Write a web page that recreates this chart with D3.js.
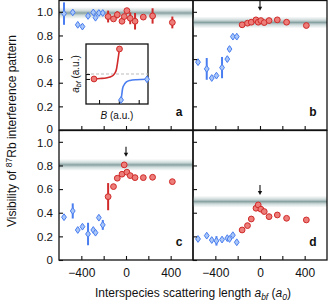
<!DOCTYPE html>
<html>
<head>
<meta charset="utf-8">
<script src="https://cdn.jsdelivr.net/npm/d3@7"></script>
<style>
  body { margin: 0; background: #fff; }
  svg { display: block; font-family: "Liberation Sans", Arial, sans-serif; }
  .tick text { fill: #111; }
</style>
</head>
<body>
<svg id="chart" width="328" height="305"></svg>
<script>
// scattering length of each point (same for all panels)
const blueX = [-555, -477, -432, -390, -340, -293, -273, -243, -208];
const redX = [-160, -112, -78, -36, -16, 8, 38, 81, 155, 238, 415];

// visibility, panel a..d
const blueA = [0.985, 0.995, 0.89, 0.875, 0.965, 0.995, 0.95, 0.99, 0.99];
const blueAErr = [0.095, 0.01, 0.015, 0.01, 0.01, 0.01, 0.015, 0.01, 0.01];
const redA = [0.96, 0.94, 0.975, 0.92, 0.96, 1.01, 0.945, 0.92, 0.955, 0.965, 0.91];
const redAErr = [0.05, 0.01, 0.03, 0.02, 0.02, 0.01, 0.05, 0.07, 0.01, 0.065, 0.05];

const blueB = [0.574, 0.517, 0.44, 0.46, 0.528, 0.6, 0.685, 0.79, 0.79];
const blueBErr = [0.02, 0.092, 0.015, 0.015, 0.09, 0.02, 0.02, 0.015, 0.015];
const redB = [0.89, 0.904, 0.912, 0.932, 0.912, 0.926, 0.909, 0.926, 0.932, 0.912, 0.884];
const redBErr = [0.01, 0.01, 0.01, 0.01, 0.01, 0.01, 0.01, 0.01, 0.01, 0.01, 0.01];

const blueC = [0.362, 0.415, 0.254, 0.282, 0.22, 0.254, 0.231, 0.358, 0.297];
const blueCErr = [0.02, 0.064, 0.015, 0.015, 0.095, 0.015, 0.02, 0.02, 0.042];
const redC = [0.536, 0.621, 0.692, 0.726, 0.805, 0.743, 0.714, 0.697, 0.697, 0.7, 0.663];
const redCErr = [0.115, 0.02, 0.01, 0.01, 0.01, 0.01, 0.01, 0.01, 0.01, 0.01, 0.01];

const blueD = [0.178, 0.206, 0.169, 0.162, 0.173, 0.185, 0.178, 0.21, 0.15];
const blueDErr = [0.015, 0.015, 0.015, 0.04, 0.015, 0.015, 0.015, 0.015, 0.015];
const redD = [0.254, 0.291, 0.347, 0.438, 0.466, 0.43, 0.41, 0.367, 0.381, 0.353, 0.339];
const redDErr = [0.01, 0.01, 0.01, 0.01, 0.01, 0.01, 0.01, 0.01, 0.01, 0.01, 0.01];

// grey band level and arrow tip for each panel
const panelNames = ['a', 'b', 'c', 'd'];
const bandLevels = [0.99, 0.91, 0.805, 0.494];
const arrowTips = [null, 1.01, 0.873, 0.55];

const xTicks = [-400, -200, 0, 200, 400];
const xLabels = [-400, 0, 400];
const yTicks = [0, 0.2, 0.4, 0.6, 0.8, 1.0];

// inset: resonance sketch
const insetRed = [[1.29, -0.83], [2.26, -0.75], [3.23, -0.67], [3.87, -0.5], [4.35, -0.25],
  [4.68, 0.17], [4.92, 0.83], [5.08, 1.83], [5.24, 3.0], [5.4, 4.17]];
const insetBlue = [[5.65, -4.33], [5.76, -3.5], [5.89, -2.5], [6.13, -1.83], [6.53, -1.33],
  [7.1, -1.08], [8.06, -0.95], [9.84, -0.88]];
const insetTicks = [2.1, 5.3, 8.5];

const panels = [
  { blue: blueA, blueErr: blueAErr, red: redA, redErr: redAErr },
  { blue: blueB, blueErr: blueBErr, red: redB, redErr: redBErr },
  { blue: blueC, blueErr: blueCErr, red: redC, redErr: redCErr },
  { blue: blueD, blueErr: blueDErr, red: redD, redErr: redDErr },
];

const BLUE = '#4a7ef0', BLUE_FILL = '#a8c6f7';
const RED = '#d02a2a', RED_FILL = '#ec7d78';

const svg = d3.select('#chart');
const defs = svg.append('defs');
const grad = defs.append('linearGradient')
  .attr('id', 'band').attr('x1', 0).attr('x2', 0).attr('y1', 0).attr('y2', 1);
grad.append('stop').attr('offset', '0%').attr('stop-color', '#c9d6d6').attr('stop-opacity', 0);
grad.append('stop').attr('offset', '30%').attr('stop-color', '#c4d2d2').attr('stop-opacity', 0.8);
grad.append('stop').attr('offset', '50%').attr('stop-color', '#86a0a1').attr('stop-opacity', 1);
grad.append('stop').attr('offset', '70%').attr('stop-color', '#c4d2d2').attr('stop-opacity', 0.8);
grad.append('stop').attr('offset', '100%').attr('stop-color', '#c9d6d6').attr('stop-opacity', 0);

const left0 = 59, colW = 134, top0 = 0, rowH = 130;

panels.forEach(function (p, i) {
  const col = i % 2, row = Math.floor(i / 2);
  const x0 = left0 + col * colW, y0 = top0 + row * rowH;
  const x = d3.scaleLinear().domain([-600, 600]).range([x0, x0 + colW]);
  const y = d3.scaleLinear().domain([0, 1.1]).range([y0 + rowH, y0]);
  const g = svg.append('g');

  g.append('defs').append('clipPath').attr('id', 'clip' + i)
    .append('rect').attr('x', x0).attr('y', y0).attr('width', colW).attr('height', rowH);
  const plot = g.append('g').attr('clip-path', 'url(#clip' + i + ')');

  // band
  plot.append('rect')
    .attr('x', x0).attr('width', colW)
    .attr('y', y(bandLevels[i]) - 6).attr('height', 12)
    .attr('fill', 'url(#band)');

  // error bars
  plot.selectAll('.eb')
    .data(blueX.map((v, k) => [v, p.blue[k], p.blueErr[k]]))
    .join('line')
    .attr('x1', d => x(d[0])).attr('x2', d => x(d[0]))
    .attr('y1', d => y(d[1] - d[2])).attr('y2', d => y(d[1] + d[2]))
    .attr('stroke', BLUE).attr('stroke-width', 2);
  plot.selectAll('.er')
    .data(redX.map((v, k) => [v, p.red[k], p.redErr[k]]))
    .join('line')
    .attr('x1', d => x(d[0])).attr('x2', d => x(d[0]))
    .attr('y1', d => y(d[1] - d[2])).attr('y2', d => y(d[1] + d[2]))
    .attr('stroke', RED).attr('stroke-width', 2);

  // blue diamonds
  plot.selectAll('.bd')
    .data(blueX.map((v, k) => [v, p.blue[k]]))
    .join('path')
    .attr('d', d => {
      const cx = x(d[0]), cy = y(d[1]);
      return `M${cx},${cy - 3.4}L${cx + 2.4},${cy}L${cx},${cy + 3.4}L${cx - 2.4},${cy}Z`;
    })
    .attr('fill', BLUE_FILL).attr('stroke', BLUE).attr('stroke-width', 1);

  // red circles
  plot.selectAll('.rc')
    .data(redX.map((v, k) => [v, p.red[k]]))
    .join('circle')
    .attr('cx', d => x(d[0])).attr('cy', d => y(d[1])).attr('r', 2.9)
    .attr('fill', RED_FILL).attr('stroke', RED).attr('stroke-width', 1);

  // arrow
  if (arrowTips[i] !== null) {
    const ax = x(0), ay = y(arrowTips[i]);
    g.append('line').attr('x1', ax).attr('x2', ax).attr('y1', ay - 10).attr('y2', ay - 3)
      .attr('stroke', '#111').attr('stroke-width', 1.1);
    g.append('path').attr('d', `M${ax - 2.2},${ay - 4}L${ax + 2.2},${ay - 4}L${ax},${ay}Z`)
      .attr('fill', '#111');
  }

  // axes (inward ticks)
  const xAxis = g.append('g').attr('transform', `translate(0,${y0 + rowH})`)
    .call(d3.axisTop(x).tickValues(xTicks).tickSize(4).tickFormat(''));
  xAxis.select('.domain').remove();
  xAxis.selectAll('line').attr('stroke', '#111').attr('stroke-width', 1.1);

  const yAxis = g.append('g').attr('transform', `translate(${x0},0)`)
    .call(d3.axisRight(y).tickValues(yTicks).tickSize(4).tickFormat(''));
  yAxis.select('.domain').remove();
  yAxis.selectAll('line').attr('stroke', '#111').attr('stroke-width', 1.1);

  if (col === 0) {
    const yl = g.append('g').attr('transform', `translate(${x0},0)`)
      .call(d3.axisLeft(y).tickValues(yTicks).tickSize(0).tickPadding(6)
        .tickFormat(d => d === 0 ? '0' : d3.format('.1f')(d)));
    yl.select('.domain').remove();
    yl.selectAll('text').attr('font-size', 11.5).attr('font-family', '"Liberation Sans", Arial, sans-serif');
    // keep the "0" of the top row and the "1.0" of the bottom row apart
    yl.selectAll('.tick').filter(d => (row === 0 && d === 0) || (row === 1 && d === 1))
      .select('text').attr('dy', row === 0 ? '0.2em' : '0.42em');
  }
  if (row === 1) {
    const xl = g.append('g').attr('transform', `translate(0,${y0 + rowH})`)
      .call(d3.axisBottom(x).tickValues(xLabels).tickSize(0).tickPadding(8)
        .tickFormat(d3.format('d')));
    xl.select('.domain').remove();
    xl.selectAll('text').attr('font-size', 12).attr('font-family', '"Liberation Sans", Arial, sans-serif');
  }

  // frame
  g.append('rect').attr('x', x0).attr('y', y0 + 0.5).attr('width', colW).attr('height', rowH - 0.5)
    .attr('fill', 'none').attr('stroke', '#111').attr('stroke-width', 1.3);

  g.append('text').attr('x', x0 + colW - 14).attr('y', y0 + rowH - 14)
    .attr('text-anchor', 'middle').attr('font-size', 12).attr('font-weight', 'bold')
    .attr('fill', '#111').text(panelNames[i]);
});

// inset in panel a
const ix = d3.scaleLinear().domain([0, 10]).range([86, 148]);
const iy = d3.scaleLinear().domain([-5, 5]).range([104, 44]);
const inset = svg.append('g');
inset.append('rect').attr('x', 86).attr('y', 44).attr('width', 62).attr('height', 60)
  .attr('fill', '#fff').attr('stroke', '#111').attr('stroke-width', 1.3);
inset.append('line').attr('x1', ix(0)).attr('x2', ix(10)).attr('y1', iy(0)).attr('y2', iy(0))
  .attr('stroke', '#bbb').attr('stroke-width', 1).attr('stroke-dasharray', '3,2');
const ixAxis = inset.append('g').attr('transform', 'translate(0,104)')
  .call(d3.axisTop(ix).tickValues(insetTicks).tickSize(4).tickFormat(''));
ixAxis.select('.domain').remove();
ixAxis.selectAll('line').attr('stroke', '#111').attr('stroke-width', 1.1);
const iyAxis = inset.append('g').attr('transform', 'translate(86,0)')
  .call(d3.axisRight(iy).tickValues([insetRed[0][1], 0]).tickSize(4).tickFormat(''));
iyAxis.select('.domain').remove();
iyAxis.selectAll('line').attr('stroke', '#111').attr('stroke-width', 1.1);

const iline = d3.line().x(d => ix(d[0])).y(d => iy(d[1])).curve(d3.curveMonotoneX);
inset.append('path').attr('d', iline(insetRed)).attr('fill', 'none')
  .attr('stroke', RED).attr('stroke-width', 1.6);
inset.append('path').attr('d', iline(insetBlue)).attr('fill', 'none')
  .attr('stroke', BLUE).attr('stroke-width', 1.6);
[insetRed[0], insetRed[insetRed.length - 1]].forEach(d => {
  inset.append('circle').attr('cx', ix(d[0])).attr('cy', iy(d[1])).attr('r', 2.9)
    .attr('fill', RED_FILL).attr('stroke', RED).attr('stroke-width', 1);
});
[insetBlue[0], insetBlue[insetBlue.length - 1]].forEach(d => {
  const cx = ix(d[0]), cy = iy(d[1]);
  inset.append('path').attr('d', `M${cx},${cy - 3.4}L${cx + 2.4},${cy}L${cx},${cy + 3.4}L${cx - 2.4},${cy}Z`)
    .attr('fill', BLUE_FILL).attr('stroke', BLUE).attr('stroke-width', 1);
});

const ity = inset.append('text').attr('transform', 'translate(79,74) rotate(-90)')
  .attr('text-anchor', 'middle').attr('font-size', 10).attr('fill', '#111');
ity.append('tspan').attr('font-style', 'italic').text('a');
ity.append('tspan').attr('font-style', 'italic').attr('font-size', 7).attr('dy', 2).text('bf');
ity.append('tspan').attr('dy', -2).text(' (a.u.)');
const itx = inset.append('text').attr('x', 117).attr('y', 119)
  .attr('text-anchor', 'middle').attr('font-size', 10).attr('fill', '#111');
itx.append('tspan').attr('font-style', 'italic').text('B');
itx.append('tspan').text(' (a.u.)');

// axis titles
const xt = svg.append('text').attr('x', 193).attr('y', 297)
  .attr('text-anchor', 'middle').attr('font-size', 12).attr('fill', '#111');
xt.append('tspan').text('Interspecies scattering length ');
xt.append('tspan').attr('font-style', 'italic').text('a');
xt.append('tspan').attr('font-style', 'italic').attr('font-size', 8.5).attr('dy', 2.5).text('bf');
xt.append('tspan').attr('dy', -2.5).text(' (');
xt.append('tspan').attr('font-style', 'italic').text('a');
xt.append('tspan').attr('font-style', 'italic').attr('font-size', 8.5).attr('dy', 2.5).text('0');
xt.append('tspan').attr('dy', -2.5).text(')');

const yt = svg.append('text').attr('transform', 'translate(16,131) rotate(-90)')
  .attr('text-anchor', 'middle').attr('font-size', 12).attr('fill', '#111');
yt.append('tspan').text('Visibility of ');
yt.append('tspan').attr('font-size', 8.5).attr('dy', -4.5).text('87');
yt.append('tspan').attr('dy', 4.5).text('Rb interference pattern');
</script>
</body>
</html>
